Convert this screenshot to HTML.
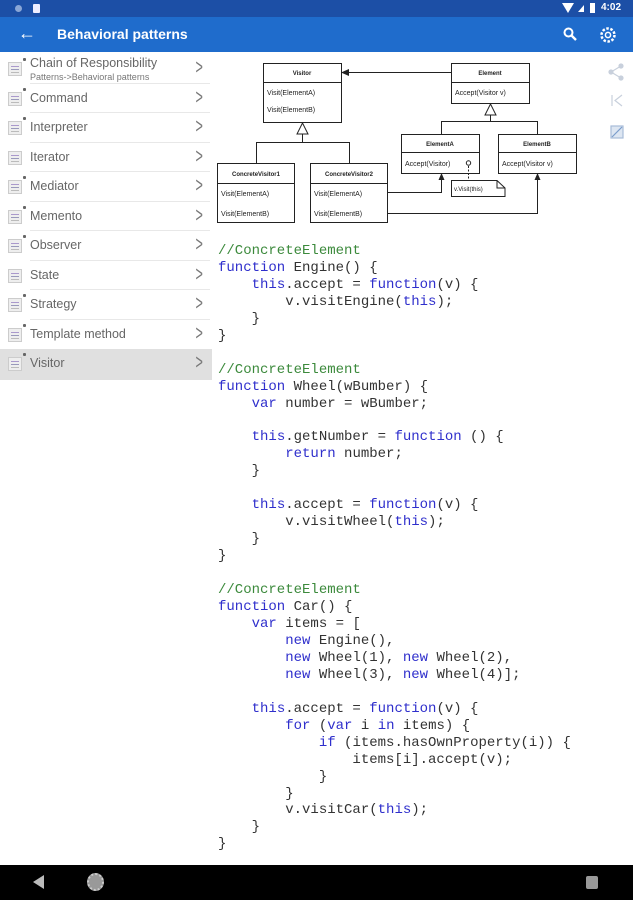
<!DOCTYPE html>
<html><head><meta charset="utf-8"><style>
*{margin:0;padding:0;box-sizing:border-box}
body{width:633px;height:900px;position:relative;overflow:hidden;background:#fff;font-family:"Liberation Sans",sans-serif}
#status{position:absolute;left:0;top:0;width:633px;height:17px;background:#1c4fa6}
#bar{position:absolute;left:0;top:17px;width:633px;height:35px;background:#1f6ccc;color:#fff}
#bar .t{position:absolute;left:57px;top:9px;font-size:14px;font-weight:bold}
#side{position:absolute;left:0;top:52px;width:212px;height:813px;background:#fff}
.it{position:absolute;left:0;width:212px;height:29.5px}
.it .ic{position:absolute;left:8px;top:8px;width:14px;height:14px;background:#eee;border:1px solid #ccc}
.it .ic:before{content:"";position:absolute;left:2px;top:3px;width:8px;height:1px;background:#a9c;box-shadow:0 3px 0 #99b,0 6px 0 #bbb}
.it .st{position:absolute;left:23px;top:4px;width:3px;height:3px;background:#666;border-radius:1px}
.it .tx{position:absolute;left:30px;top:7px;font-size:12.5px;color:#666}
.it .ch{position:absolute;left:193px;top:2px;font-size:21px;color:#777;transform:scaleX(.6)}
.it .ln{position:absolute;left:30px;right:2px;bottom:0;height:1px;background:#e8e8e8}
#code{position:absolute;left:218px;top:243px;font-family:"Liberation Mono",monospace;font-size:14px;line-height:16.95px;color:#333;white-space:pre}
.c{color:#3c8a3c}.k{color:#2f2fcc}
#nav{position:absolute;left:0;top:865px;width:633px;height:35px;background:#000}
</style></head><body>
<div id="status">
<div style="position:absolute;left:15px;top:5px;width:7px;height:7px;border-radius:50%;background:#8aa6d6"></div>
<div style="position:absolute;left:33px;top:4px;width:7px;height:9px;background:#eef;border-radius:1px"></div>
<div style="position:absolute;left:562px;top:3px;width:0;height:0;border-left:6px solid transparent;border-right:6px solid transparent;border-top:10px solid #fff"></div>
<div style="position:absolute;left:578px;top:5px;width:0;height:0;border-left:6px solid transparent;border-bottom:7px solid #fff"></div>
<div style="position:absolute;left:590px;top:3px;width:5px;height:10px;background:#fff"></div>
<div style="position:absolute;left:601px;top:2px;font-size:10px;color:#fff;font-weight:bold">4:02</div>
</div>
<div id="bar"><div style="position:absolute;left:18px;top:6px;font-size:18px">&#8592;</div><div class="t">Behavioral patterns</div>
<svg style="position:absolute;left:563px;top:10px" width="14" height="14"><circle cx="5.5" cy="5.5" r="4" stroke="#fff" stroke-width="2" fill="none"/><line x1="8.5" y1="8.5" x2="13" y2="13" stroke="#fff" stroke-width="2.4"/></svg>
<svg style="position:absolute;left:598px;top:8px" width="20" height="20"><circle cx="10" cy="10" r="6.5" stroke="#fff" stroke-width="2.5" fill="none" stroke-dasharray="2.5 1.6"/><circle cx="10" cy="10" r="2.6" stroke="#fff" stroke-width="1.5" fill="none"/></svg>
</div>
<div id="side">
<div class="it" style="top:2px"><div class="ic"></div><div class="st"></div><div class="tx" style="top:2px">Chain of Responsibility</div><div style="position:absolute;left:30px;top:18px;font-size:9px;color:#777">Patterns-&gt;Behavioral patterns</div><div class="ch">&gt;</div><div class="ln"></div></div>
<div class="it" style="top:31.5px"><div class="ic"></div><div class="st"></div><div class="tx">Command</div><div class="ch">&gt;</div><div class="ln"></div></div>
<div class="it" style="top:61px"><div class="ic"></div><div class="st"></div><div class="tx">Interpreter</div><div class="ch">&gt;</div><div class="ln"></div></div>
<div class="it" style="top:90.5px"><div class="ic"></div><div class="tx">Iterator</div><div class="ch">&gt;</div><div class="ln"></div></div>
<div class="it" style="top:120px"><div class="ic"></div><div class="st"></div><div class="tx">Mediator</div><div class="ch">&gt;</div><div class="ln"></div></div>
<div class="it" style="top:149.5px"><div class="ic"></div><div class="st"></div><div class="tx">Memento</div><div class="ch">&gt;</div><div class="ln"></div></div>
<div class="it" style="top:179px"><div class="ic"></div><div class="st"></div><div class="tx">Observer</div><div class="ch">&gt;</div><div class="ln"></div></div>
<div class="it" style="top:208.5px"><div class="ic"></div><div class="tx">State</div><div class="ch">&gt;</div><div class="ln"></div></div>
<div class="it" style="top:238px"><div class="ic"></div><div class="st"></div><div class="tx">Strategy</div><div class="ch">&gt;</div><div class="ln"></div></div>
<div class="it" style="top:267.5px"><div class="ic"></div><div class="st"></div><div class="tx">Template method</div><div class="ch">&gt;</div></div>
<div class="it" style="top:297px;background:#e0e0e0;height:31px"><div class="ic"></div><div class="st"></div><div class="tx">Visitor</div><div class="ch">&gt;</div></div>
</div>
<svg style="position:absolute;left:0;top:0" width="633" height="230" font-family="Liberation Sans" font-size="7" fill="#222">
<g stroke="#222" stroke-width="1" fill="#fff">
<rect x="263.5" y="63.5" width="78" height="59"/><line x1="263" y1="82.5" x2="342" y2="82.5"/>
<rect x="451.5" y="63.5" width="78" height="40"/><line x1="451" y1="82.5" x2="530" y2="82.5"/>
<rect x="217.5" y="163.5" width="77" height="59"/><line x1="217" y1="183.5" x2="295" y2="183.5"/>
<rect x="310.5" y="163.5" width="77" height="59"/><line x1="310" y1="183.5" x2="388" y2="183.5"/>
<rect x="401.5" y="134.5" width="78" height="39"/><line x1="401" y1="152.5" x2="480" y2="152.5"/>
<rect x="498.5" y="134.5" width="78" height="39"/><line x1="498" y1="152.5" x2="577" y2="152.5"/>
<polyline points="451,72.5 348,72.5" fill="none"/>
<polyline points="302.5,134 302.5,142.5 256.5,142.5 256.5,163" fill="none"/>
<polyline points="302.5,142.5 349.5,142.5 349.5,163" fill="none"/>
<polygon points="302.5,123 297,134 308,134"/>
<polyline points="490.5,115 490.5,121.5 441.5,121.5 441.5,134" fill="none"/>
<polyline points="490.5,121.5 537.5,121.5 537.5,134" fill="none"/>
<polygon points="490.5,104 485,115 496,115"/>
<polyline points="387,192.5 441.5,192.5 441.5,180" fill="none"/>
<polyline points="387,213.5 537.5,213.5 537.5,180" fill="none"/>
<line x1="468.5" y1="166" x2="468.5" y2="181" stroke-dasharray="2 1.5"/>
<circle cx="468.5" cy="163" r="2.2"/>
<polygon points="451.5,180.5 497,180.5 505,188 505,196.5 451.5,196.5"/>
<polyline points="497,180.5 497,188 505,188" fill="none"/>
</g>
<polygon points="341,72.5 349,69 349,76" fill="#222"/>
<polygon points="441.5,173 438.5,180 444.5,180" fill="#222"/>
<polygon points="537.5,173 534.5,180 540.5,180" fill="#222"/>
<g font-size="6" font-weight="bold" text-anchor="middle">
<text x="302" y="75">Visitor</text><text x="490" y="75">Element</text>
<text x="256" y="176">ConcreteVisitor1</text><text x="349" y="176">ConcreteVisitor2</text>
<text x="440" y="146">ElementA</text><text x="537" y="146">ElementB</text>
</g>
<text x="267" y="95">Visit(ElementA)</text><text x="267" y="112">Visit(ElementB)</text>
<text x="455" y="95">Accept(Visitor v)</text>
<text x="221" y="196">Visit(ElementA)</text><text x="221" y="216">Visit(ElementB)</text>
<text x="314" y="196">Visit(ElementA)</text><text x="314" y="216">Visit(ElementB)</text>
<text x="405" y="166">Accept(Visitor)</text><text x="502" y="166">Accept(Visitor v)</text>
<text x="454" y="191" font-size="6">v.Visit(this)</text>
<g fill="#c8d0dc" stroke="#c8d0dc" stroke-width="1.2">
<circle cx="611" cy="72" r="2"/><circle cx="621" cy="66" r="2"/><circle cx="621" cy="78" r="2"/>
<line x1="611" y1="72" x2="621" y2="66"/><line x1="611" y1="72" x2="621" y2="78"/>
<line x1="612" y1="95" x2="612" y2="106"/><polyline points="622,95 615,100.5 622,106" fill="none"/>
<rect x="611" y="126" width="12" height="12" fill="#dde6f2" stroke="#a8bcd8"/>
</g>
<line x1="612" y1="137" x2="622" y2="127" stroke="#7a9ccc" stroke-width="1.2"/>
</svg>
<div id="code"><span class="c">//ConcreteElement</span>
<span class="k">function</span> Engine() {
    <span class="k">this</span>.accept = <span class="k">function</span>(v) {
        v.visitEngine(<span class="k">this</span>);
    }
}

<span class="c">//ConcreteElement</span>
<span class="k">function</span> Wheel(wBumber) {
    <span class="k">var</span> number = wBumber;

    <span class="k">this</span>.getNumber = <span class="k">function</span> () {
        <span class="k">return</span> number;
    }

    <span class="k">this</span>.accept = <span class="k">function</span>(v) {
        v.visitWheel(<span class="k">this</span>);
    }
}

<span class="c">//ConcreteElement</span>
<span class="k">function</span> Car() {
    <span class="k">var</span> items = [
        <span class="k">new</span> Engine(),
        <span class="k">new</span> Wheel(1), <span class="k">new</span> Wheel(2),
        <span class="k">new</span> Wheel(3), <span class="k">new</span> Wheel(4)];

    <span class="k">this</span>.accept = <span class="k">function</span>(v) {
        <span class="k">for</span> (<span class="k">var</span> i <span class="k">in</span> items) {
            <span class="k">if</span> (items.hasOwnProperty(i)) {
                items[i].accept(v);
            }
        }
        v.visitCar(<span class="k">this</span>);
    }
}</div>
<div id="nav">
<div style="position:absolute;left:33px;top:10px;width:0;height:0;border-top:7px solid transparent;border-bottom:7px solid transparent;border-right:11px solid #bbb"></div>
<div style="position:absolute;left:87px;top:8px;width:17px;height:18px;border-radius:50%;background:#999;border:2px dotted #ccc"></div>
<div style="position:absolute;left:586px;top:11px;width:12px;height:13px;background:#999;border-radius:2px"></div>
</div>
</body></html>
